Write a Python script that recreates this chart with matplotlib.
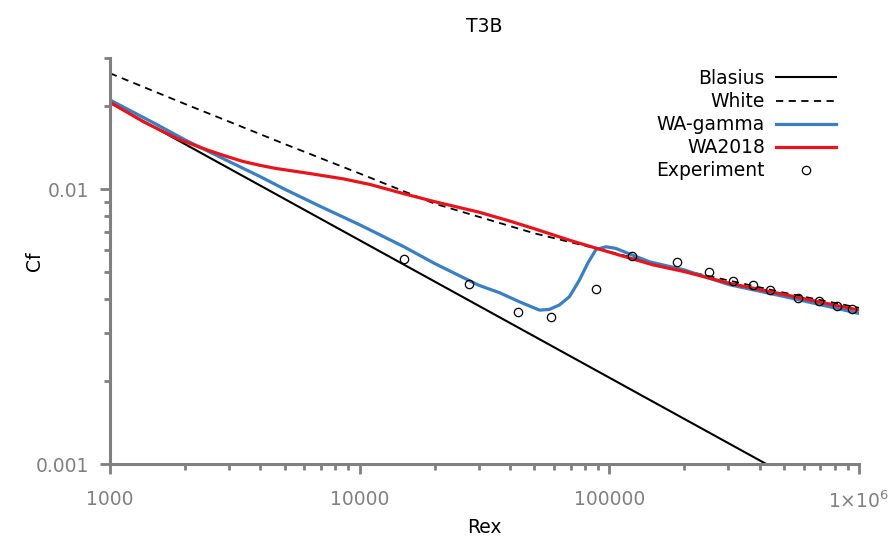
import numpy as np
import matplotlib
matplotlib.use("Agg")
import matplotlib.pyplot as plt
from matplotlib.ticker import FixedLocator, NullFormatter, FixedFormatter

################################################################################
# data
blasius_re = [1000, 1000000]
blasius_cf = [0.0206, 0.000652]

white_re = [1000, 2000, 3000, 5000, 10000, 20000, 50000, 100000, 200000, 500000, 1000000]
white_cf = [0.0264, 0.0204, 0.0176, 0.0146, 0.0114, 0.00885, 0.00691, 0.00592,
            0.00505, 0.00420, 0.00370]

wagamma_re = [1000, 1500, 2000, 3000, 4000, 5000, 7000, 10000, 15000, 20000, 30000,
              36300, 43700, 52500, 57500, 63100, 69200, 75900, 81900, 88500,
              97000, 106000, 124000, 145000, 200000, 300000, 500000, 700000,
              1000000]
wagamma_cf = [0.0211, 0.0174, 0.0151, 0.0126, 0.0111, 0.0100, 0.00863, 0.00742,
              0.00618, 0.00536, 0.00447, 0.00420, 0.00389, 0.00363, 0.00365,
              0.00379, 0.00406, 0.00467, 0.00537, 0.00604, 0.00617, 0.00609,
              0.00575, 0.00544, 0.00508, 0.00450, 0.00407, 0.00380, 0.00353]

wa2018_re = [1000, 1360, 1850, 2200, 2500, 2900, 3400, 4000, 4600, 6300, 8600,
             11000, 15000, 20000, 30000, 40000, 50000, 70000, 100000, 150000,
             200000, 300000, 500000, 700000, 1000000]
wa2018_cf = [0.0207, 0.0176, 0.0153, 0.0144, 0.0138, 0.0132, 0.01262, 0.0122,
             0.0119, 0.0114, 0.0109, 0.0104, 0.00963, 0.00900, 0.00825, 0.00765,
             0.00718, 0.00650, 0.00590, 0.00530, 0.00501, 0.00455, 0.00414,
             0.00388, 0.00363]

exp_re = [15000, 27500, 42900, 58600, 88500, 123300, 185800, 249600, 314200,
          376700, 440500, 570200, 690000, 816600, 940000]
exp_cf = [0.00558, 0.00450, 0.00357, 0.00343, 0.00434, 0.00573, 0.00541,
          0.00498, 0.00464, 0.00449, 0.00430, 0.00401, 0.00391, 0.00375, 0.00365]

xtick_vals = [1000, 10000, 100000, 1000000]
xtick_labels = ["1000", "10000", "100000", r"$1{\times}10^{6}$"]
ytick_vals = [0.001, 0.01]
ytick_labels = ["0.001", "0.01"]

################################################################################
plt.rcParams['font.family'] = ['DejaVu Sans']
grey = "#808080"
fs = 13.5

fig = plt.figure(figsize=(8.96, 5.37), dpi=100)
ax = fig.add_axes([110/896, 1-464/537, (859-110)/896, (464-58)/537])

ax.plot(blasius_re, blasius_cf, color="black", lw=1.5, label="Blasius")
ax.plot(white_re, white_cf, color="black", lw=1.3, ls=(0, (4, 3)), label="White")
ax.plot(wagamma_re, wagamma_cf, color="#3a7fc1", lw=2.3, label="WA-gamma")
ax.plot(wa2018_re, wa2018_cf, color="#e8141b", lw=2.3, label="WA2018")
ax.plot(exp_re, exp_cf, ls="none", marker="o", ms=6, mfc="none", mec="black",
        mew=0.9, label="Experiment")

ax.set_xscale("log")
ax.set_yscale("log")
ax.set_xlim(1000, 1000000)
ax.set_ylim(0.001, 0.03)

ax.xaxis.set_major_locator(FixedLocator(xtick_vals))
ax.xaxis.set_major_formatter(FixedFormatter(xtick_labels))
ax.yaxis.set_major_locator(FixedLocator(ytick_vals))
ax.yaxis.set_major_formatter(FixedFormatter(ytick_labels))
ax.xaxis.set_minor_locator(FixedLocator(
    [m * 10**e for e in (3, 4, 5) for m in range(2, 10)]))
ax.yaxis.set_minor_locator(FixedLocator(
    [m * 10**e for e in (-3,) for m in range(2, 10)] + [0.02, 0.03]))
ax.xaxis.set_minor_formatter(NullFormatter())
ax.yaxis.set_minor_formatter(NullFormatter())

for s in ("top", "right"):
    ax.spines[s].set_visible(False)
for s in ("left", "bottom"):
    ax.spines[s].set_color(grey)
    ax.spines[s].set_linewidth(2.2)

ax.tick_params(which="major", direction="out", length=7, width=2, color=grey,
               labelcolor=grey, labelsize=fs)
ax.tick_params(which="minor", direction="out", length=4.5, width=2, color=grey)
ax.tick_params(axis="x", which="major", pad=12)
ax.tick_params(axis="y", which="major", pad=8)

ax.set_title("T3B", fontsize=fs, pad=19)
ax.set_xlabel("Rex", fontsize=fs)
ax.set_ylabel("Cf", fontsize=fs)
ax.xaxis.set_label_coords(0.5, (464-518)/406)
ax.yaxis.set_label_coords((44-110)/749, 0.5)

ax.legend(loc="upper right", bbox_to_anchor=(836/896, 1-69/537),
          bbox_transform=fig.transFigure, frameon=False, markerfirst=False,
          fontsize=fs, handlelength=3.2, handletextpad=0.6, labelspacing=0.22,
          borderpad=0, borderaxespad=0, numpoints=1)

fig.savefig("out.png", dpi=100)
